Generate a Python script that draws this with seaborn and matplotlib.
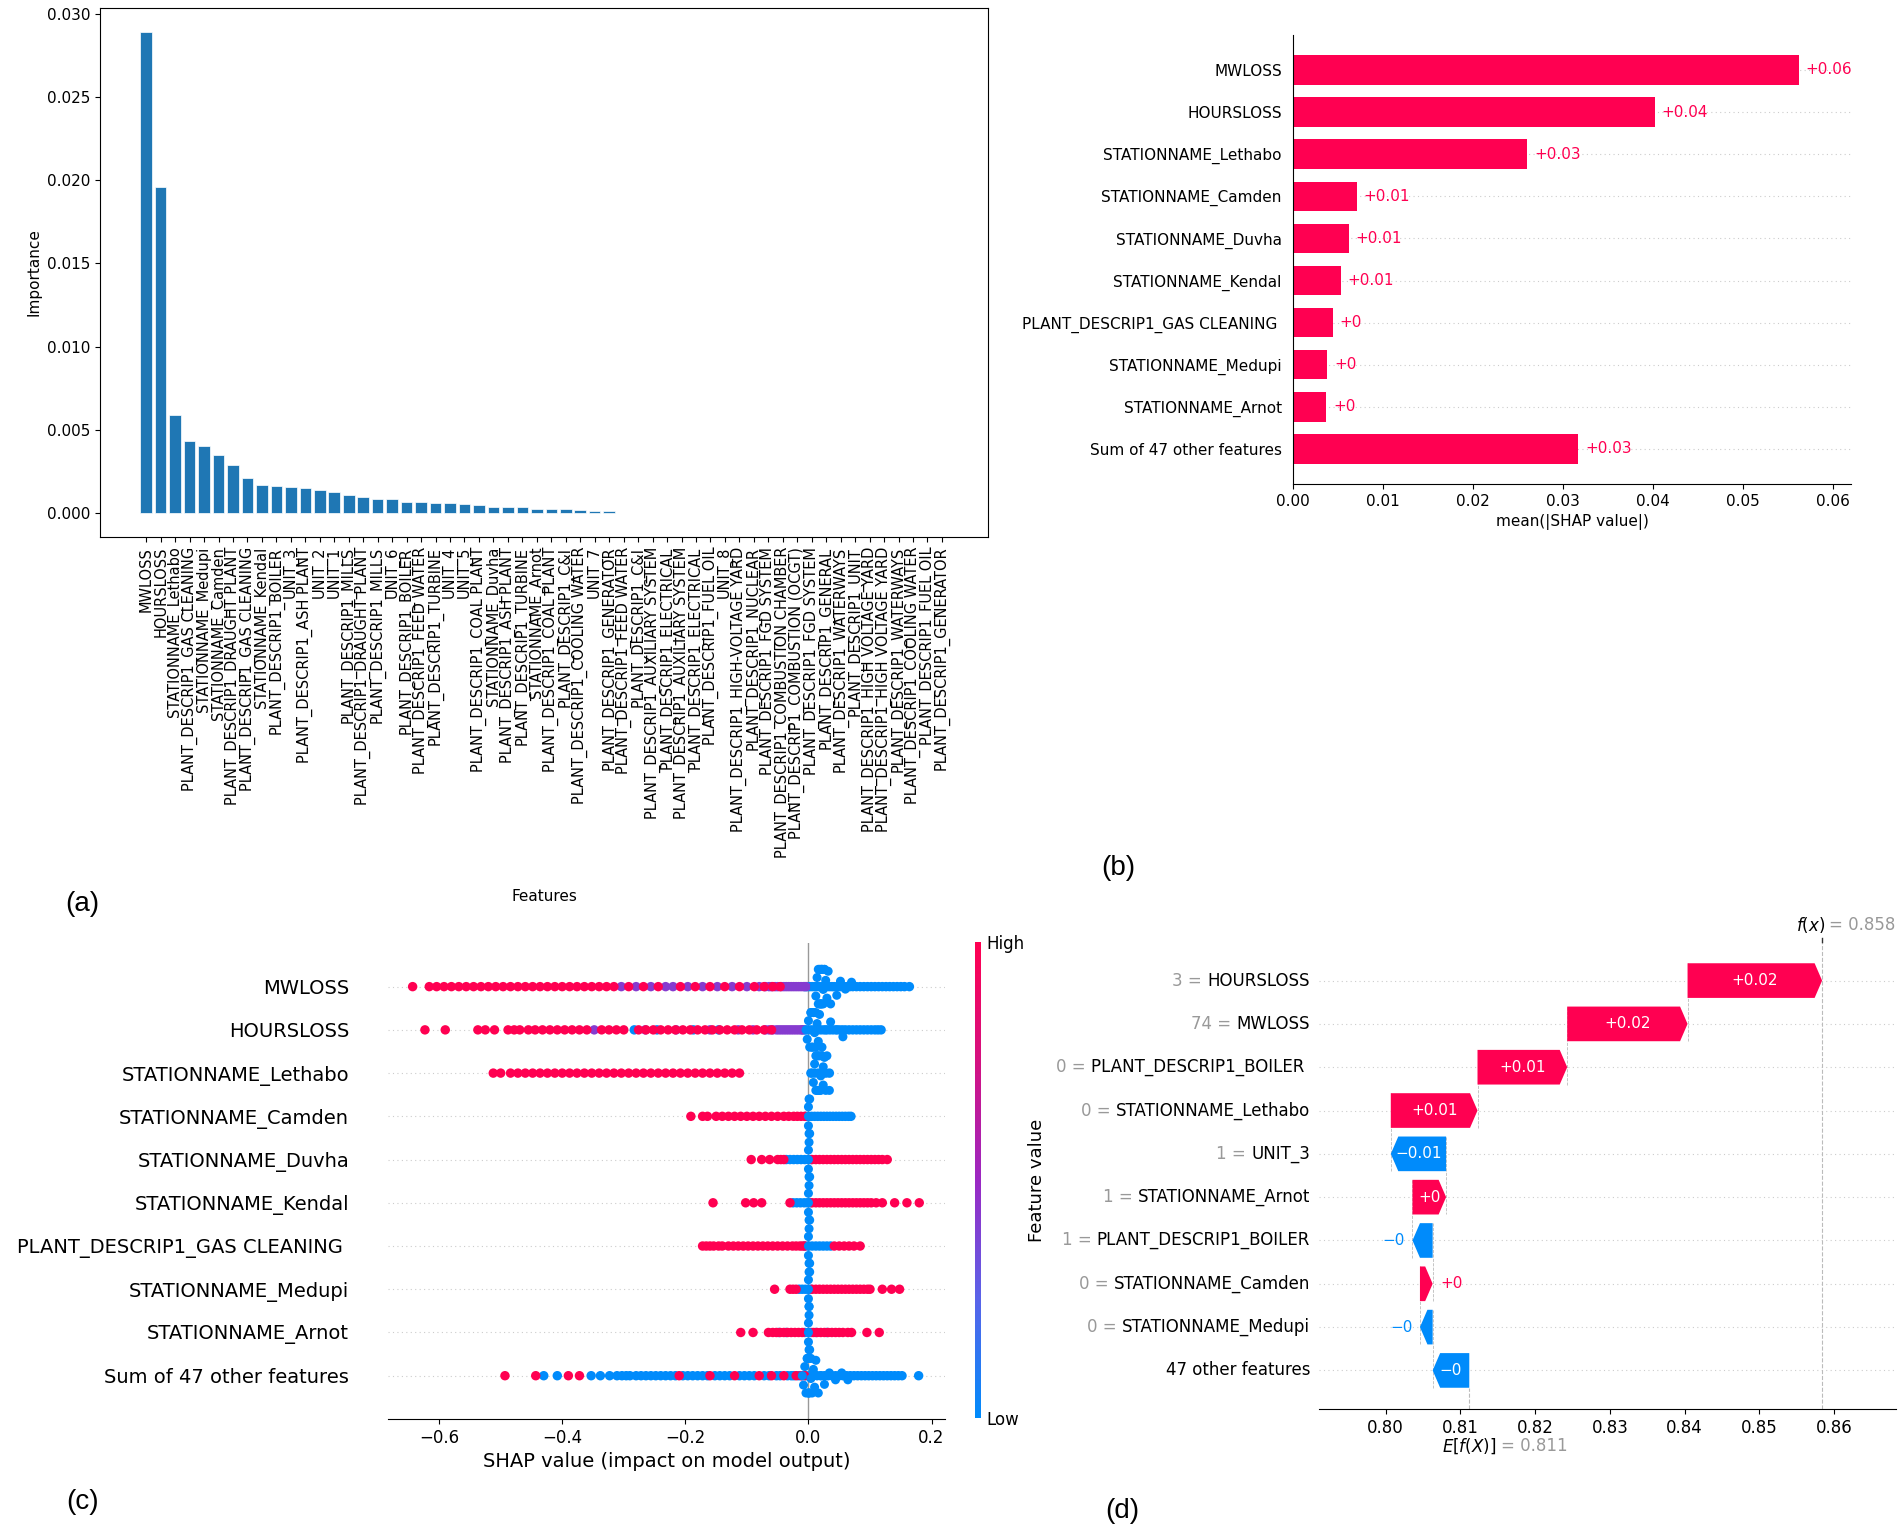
import numpy as np
import pandas as pd
import matplotlib
matplotlib.use("Agg")
import matplotlib.pyplot as plt
import matplotlib.transforms as mtransforms
from matplotlib.colors import LinearSegmentedColormap
from matplotlib.patches import Polygon
import seaborn as sns

SHAP_RED = "#ff0051"
SHAP_BLUE = "#008bfb"

# ---------------- (a) feature importance ----------------
imp_features = [
    "MWLOSS", "HOURSLOSS", "STATIONNAME_Lethabo", "PLANT_DESCRIP1_GAS CLEANING",
    "STATIONNAME_Medupi", "STATIONNAME_Camden", "PLANT_DESCRIP1_DRAUGHT PLANT",
    "PLANT_DESCRIP1_GAS CLEANING", "STATIONNAME_Kendal", "PLANT_DESCRIP1_BOILER",
    "UNIT_3", "PLANT_DESCRIP1_ASH PLANT", "UNIT_2", "UNIT_1", "PLANT_DESCRIP1_MILLS",
    "PLANT_DESCRIP1_DRAUGHT PLANT", "PLANT_DESCRIP1_MILLS", "UNIT_6",
    "PLANT_DESCRIP1_BOILER", "PLANT_DESCRIP1_FEED WATER", "PLANT_DESCRIP1_TURBINE",
    "UNIT_4", "UNIT_5", "PLANT_DESCRIP1_COAL PLANT", "STATIONNAME_Duvha",
    "PLANT_DESCRIP1_ASH PLANT", "PLANT_DESCRIP1_TURBINE", "STATIONNAME_Arnot",
    "PLANT_DESCRIP1_COAL PLANT", "PLANT_DESCRIP1_C&I", "PLANT_DESCRIP1_COOLING WATER",
    "UNIT_7", "PLANT_DESCRIP1_GENERATOR", "PLANT_DESCRIP1_FEED WATER",
    "PLANT_DESCRIP1_C&I", "PLANT_DESCRIP1_AUXILIARY SYSTEM", "PLANT_DESCRIP1_ELECTRICAL",
    "PLANT_DESCRIP1_AUXILIARY SYSTEM", "PLANT_DESCRIP1_ELECTRICAL",
    "PLANT_DESCRIP1_FUEL OIL", "UNIT_8", "PLANT_DESCRIP1_HIGH-VOLTAGE YARD",
    "PLANT_DESCRIP1_NUCLEAR", "PLANT_DESCRIP1_FGD SYSTEM",
    "PLANT_DESCRIP1_COMBUSTION CHAMBER", "PLANT_DESCRIP1_COMBUSTION (OCGT)",
    "PLANT_DESCRIP1_FGD SYSTEM", "PLANT_DESCRIP1_GENERAL", "PLANT_DESCRIP1_WATERWAYS",
    "PLANT_DESCRIP1_UNIT", "PLANT_DESCRIP1_HIGH VOLTAGE YARD",
    "PLANT_DESCRIP1_HIGH VOLTAGE YARD", "PLANT_DESCRIP1_WATERWAYS",
    "PLANT_DESCRIP1_COOLING WATER", "PLANT_DESCRIP1_FUEL OIL", "PLANT_DESCRIP1_GENERATOR",
]
imp_values = [
    0.0289, 0.0196, 0.0059, 0.0043, 0.0040, 0.0035, 0.0029, 0.0021, 0.0017, 0.0016,
    0.00155, 0.0015, 0.0014, 0.00128, 0.0011, 0.00094, 0.00082, 0.00082, 0.00068, 0.00068,
    0.0006, 0.0006, 0.00052, 0.00046, 0.00034, 0.00034, 0.00034, 0.00026, 0.00026, 0.00026,
    0.0002, 0.0001, 0.0001, 0.00002, 0.00002, 0.00002, 0.00002, 0.00002, 0.00002, 0.00002,
    0, 0, 0, 0, 0, 0, 0, 0, 0, 0, 0, 0, 0, 0, 0, 0,
]

# ---------------- (b) mean |SHAP| ----------------
shap_features = [
    "MWLOSS", "HOURSLOSS", "STATIONNAME_Lethabo", "STATIONNAME_Camden",
    "STATIONNAME_Duvha", "STATIONNAME_Kendal", "PLANT_DESCRIP1_GAS CLEANING ",
    "STATIONNAME_Medupi", "STATIONNAME_Arnot", "Sum of 47 other features",
]
mean_abs_shap = [0.0562, 0.0402, 0.0260, 0.0071, 0.0062, 0.0053, 0.0044, 0.0038, 0.0037, 0.0317]

# ---------------- (c) beeswarm ----------------
# points lying along each row (high / mid / low feature value)
mw_high = [-0.643, -0.616, -0.604, -0.592, -0.580, -0.568, -0.556, -0.544, -0.532, -0.520,
           -0.508, -0.496, -0.484, -0.472, -0.460, -0.448, -0.436, -0.424, -0.412, -0.400,
           -0.388, -0.376, -0.364, -0.352, -0.340, -0.328, -0.316, -0.292, -0.268, -0.244,
           -0.208, -0.184, -0.160, -0.136, -0.112, -0.088, -0.072, -0.058, -0.046]
mw_mid = [-0.304, -0.280, -0.256, -0.232, -0.220, -0.196, -0.172, -0.148, -0.124, -0.100,
          -0.080, -0.070, -0.064, -0.060, -0.054, -0.050, -0.044, -0.040, -0.036, -0.032,
          -0.028, -0.024, -0.020, -0.016, -0.012, -0.008, -0.004]
mw_low = [-0.006, -0.002, 0.002, 0.006, 0.010, 0.014, 0.018, 0.022, 0.026, 0.030, 0.034,
          0.038, 0.042, 0.047, 0.052, 0.057, 0.062, 0.067, 0.072, 0.078, 0.084, 0.090, 0.096,
          0.102, 0.108, 0.114, 0.120, 0.126, 0.132, 0.138, 0.144, 0.150, 0.156, 0.164]

hl_high = [-0.623, -0.590, -0.537, -0.525, -0.510, -0.488, -0.478, -0.469, -0.455, -0.444,
           -0.432, -0.420, -0.408, -0.396, -0.384, -0.372, -0.360, -0.336, -0.324, -0.312,
           -0.300, -0.276, -0.264, -0.252, -0.240, -0.228, -0.216, -0.204, -0.192, -0.180,
           -0.168, -0.156, -0.144, -0.132, -0.120, -0.108, -0.096, -0.084, -0.072, -0.060]
hl_mid = [-0.348, -0.265, -0.215, -0.160, -0.114, -0.090, -0.070, -0.064, -0.058, -0.052,
          -0.048, -0.044, -0.040, -0.036, -0.032, -0.028, -0.024, -0.020, -0.016, -0.012,
          -0.008]
hl_low = [-0.283, -0.246, -0.187, -0.146, -0.010, -0.005, 0.0, 0.005, 0.010, 0.015, 0.020,
          0.025, 0.030, 0.035, 0.040, 0.045, 0.050, 0.055, 0.060, 0.066, 0.072, 0.078, 0.084,
          0.090, 0.096, 0.102, 0.108, 0.113, 0.118]

le_high = [-0.512, -0.500, -0.484, -0.472, -0.460, -0.448, -0.436, -0.424, -0.412, -0.400,
           -0.388, -0.376, -0.364, -0.352, -0.340, -0.328, -0.316, -0.304, -0.292, -0.280,
           -0.268, -0.256, -0.244, -0.232, -0.220, -0.208, -0.196, -0.184, -0.172, -0.160,
           -0.148, -0.136, -0.124, -0.112]
le_low = [0.004, 0.010, 0.016, 0.022, 0.028, 0.034]

ca_high = [-0.191, -0.172, -0.164, -0.150, -0.140, -0.130, -0.120, -0.110, -0.100, -0.090,
           -0.080, -0.070, -0.060, -0.050, -0.040, -0.032, -0.024, -0.018, -0.012, -0.006]
ca_low = [-0.004, 0.0, 0.005, 0.010, 0.015, 0.020, 0.025, 0.030, 0.035, 0.040, 0.045, 0.050,
          0.055, 0.060, 0.065, 0.069]

du_high = [-0.093, -0.076, -0.063, -0.050, -0.045, -0.040, 0.006, 0.012, 0.018, 0.024, 0.030,
           0.036, 0.042, 0.048, 0.054, 0.060, 0.066, 0.072, 0.078, 0.084, 0.090, 0.096, 0.102,
           0.108, 0.114, 0.120, 0.128]
du_low = [-0.036, -0.030, -0.024, -0.018, -0.012, -0.006, 0.0, 0.004]

ke_high = [-0.155, -0.102, -0.089, -0.076, -0.030, 0.006, 0.012, 0.018, 0.024, 0.030, 0.036,
           0.042, 0.048, 0.054, 0.060, 0.066, 0.072, 0.078, 0.084, 0.090, 0.096, 0.102, 0.110,
           0.120, 0.140, 0.160, 0.180]
ke_low = [-0.025, -0.019, -0.013, -0.007, -0.002, 0.003]

gc_high = [-0.172, -0.166, -0.160, -0.154, -0.146, -0.140, -0.130, -0.122, -0.114, -0.106,
           -0.098, -0.090, -0.082, -0.074, -0.066, -0.058, -0.050, -0.042, -0.034, -0.026,
           -0.020, -0.014, -0.010, -0.006, 0.042, 0.050, 0.058, 0.066, 0.074, 0.084]
gc_low = [-0.006, 0.0, 0.006, 0.012, 0.018, 0.024, 0.030, 0.036]

me_high = [-0.055, -0.030, -0.025, -0.020, 0.006, 0.012, 0.018, 0.024, 0.030, 0.036, 0.042,
           0.048, 0.054, 0.060, 0.066, 0.072, 0.078, 0.084, 0.090, 0.096, 0.100, 0.120,
           0.135, 0.148]
me_low = [-0.015, -0.010, -0.005, 0.0, 0.004]

ar_high = [-0.110, -0.090, -0.065, -0.058, -0.052, -0.046, -0.040, -0.034, -0.028, -0.022,
           -0.016, -0.010, 0.008, 0.014, 0.020, 0.026, 0.032, 0.038, 0.044, 0.050, 0.056,
           0.064, 0.070, 0.095, 0.115]
ar_low = [-0.048, -0.036, -0.006, 0.0, 0.004, 0.012, 0.030]

so_high = [-0.493, -0.443, -0.390, -0.372, -0.210, -0.160, -0.120, -0.080, -0.060, -0.040,
           -0.020, -0.012, -0.006]
so_low = [-0.430, -0.408, -0.353, -0.338, -0.323, -0.311, -0.303, -0.296, -0.290, -0.280,
          -0.272, -0.264, -0.256, -0.248, -0.240, -0.232, -0.224, -0.216, -0.204, -0.196,
          -0.188, -0.180, -0.172, -0.164, -0.152, -0.144, -0.136, -0.128, -0.112, -0.104,
          -0.096, -0.088, -0.072, -0.064, -0.052, -0.046, -0.034, -0.028, -0.024, -0.016,
          -0.010, -0.004, 0.002, 0.008, 0.014, 0.020, 0.026, 0.032, 0.038, 0.044, 0.050,
          0.056, 0.062, 0.068, 0.074, 0.080, 0.086, 0.092, 0.098, 0.104, 0.110, 0.116, 0.122,
          0.128, 0.134, 0.140, 0.146, 0.152, 0.179]

# low-value points piled up in the dense clusters near zero
mw_stack = [0.010, 0.012, 0.014, 0.016, 0.016, 0.018, 0.018, 0.020, 0.020, 0.020, 0.022,
            0.022, 0.022, 0.024, 0.024, 0.026, 0.026, 0.028, 0.030, 0.032, 0.036, 0.040,
            0.046, 0.052, 0.060, 0.070]
hl_stack = [-0.004, -0.002, 0.0, 0.002, 0.004, 0.004, 0.006, 0.006, 0.008, 0.008, 0.010,
            0.010, 0.012, 0.012, 0.014, 0.016, 0.018, 0.022, 0.028, 0.036, 0.046, 0.056]
le_stack = [0.006, 0.008, 0.010, 0.012, 0.012, 0.014, 0.014, 0.016, 0.016, 0.018, 0.018,
            0.020, 0.020, 0.022, 0.022, 0.024, 0.024, 0.026, 0.028, 0.030, 0.034]
ca_stack = [0.0, 0.0, 0.0, 0.001, 0.001, 0.002, 0.002]
du_stack = [0.0, 0.0, 0.0, 0.001, 0.001, 0.002]
ke_stack = [0.0, 0.0, 0.0, 0.001, 0.001, 0.002]
gc_stack = [0.0, 0.0, 0.0, 0.001, 0.001, 0.002]
me_stack = [0.0, 0.0, 0.0, 0.001, 0.001, 0.001, 0.002]
ar_stack = [0.0, 0.0, 0.0, 0.001, 0.001, 0.002]
so_stack = [-0.010, -0.008, -0.006, -0.004, -0.002, -0.002, 0.0, 0.0, 0.0, 0.002, 0.002,
            0.004, 0.004, 0.006, 0.008, 0.010, 0.012, 0.016, 0.020, 0.026, 0.034, 0.044,
            0.054, 0.064]

# ---------------- (d) waterfall ----------------
wf_feature_vals = ["3", "74", "0", "0", "1", "1", "1", "0", "0", ""]
wf_names = ["HOURSLOSS", "MWLOSS", "PLANT_DESCRIP1_BOILER ", "STATIONNAME_Lethabo", "UNIT_3",
            "STATIONNAME_Arnot", "PLANT_DESCRIP1_BOILER", "STATIONNAME_Camden",
            "STATIONNAME_Medupi", "47 other features"]
wf_contrib = [0.0180, 0.0161, 0.0120, 0.0116, -0.0074, 0.0045, -0.0027, 0.0017, -0.0017, -0.0049]
wf_base = 0.8112


def fmt(v):
    s = f"{v:+.2f}".rstrip("0").rstrip(".")
    return s.replace("-", "\u2212")


shap_cmap = LinearSegmentedColormap.from_list(
    "shap_rb", ["#008bfb", "#5a63e9", "#9b28c3", "#d41181", "#ff0051"])

fig = plt.figure(figsize=(19.02, 15.32), dpi=100)

# ---- panel (a) ----
axa = fig.add_axes([0.0526, 0.6495, 0.4669, 0.3453])
pos = np.arange(len(imp_values))
sns.barplot(x=pos, y=imp_values, color="#1f77b4", saturation=1, width=0.8,
            edgecolor="white", linewidth=0.5, ax=axa)
axa.set_xticks(pos)
axa.set_xticklabels(imp_features, rotation=90, fontsize=10.5)
axa.set_xlim(-3.19, 58.19)
axa.set_ylim(-0.00144, 0.03034)
axa.set_yticks([0, 0.005, 0.010, 0.015, 0.020, 0.025, 0.030])
axa.tick_params(axis="y", labelsize=11)
axa.set_xlabel("Features", fontsize=11, labelpad=22)
axa.set_ylabel("Importance", fontsize=11)

# ---- panel (b) ----
axb = fig.add_axes([0.6798, 0.6841, 0.2934, 0.2931])
for i in range(len(shap_features)):
    axb.axhline(i, color="#cccccc", lw=0.8, dashes=(1, 3), zorder=-1)
sns.barplot(x=mean_abs_shap, y=shap_features, order=shap_features, orient="h",
            color=SHAP_RED, saturation=1, width=0.7, ax=axb)
axb.set_xlim(0, 0.062)
axb.set_ylim(9.83, -0.83)
off_b = 0.062 / 80
for i, v in enumerate(mean_abs_shap):
    axb.text(v + off_b, i, fmt(v), ha="left", va="center", color=SHAP_RED, fontsize=11)
axb.set_xticks([0, 0.01, 0.02, 0.03, 0.04, 0.05, 0.06])
axb.tick_params(axis="y", length=0, pad=8, labelsize=11)
axb.tick_params(axis="x", labelsize=11)
axb.set_xlabel("mean(|SHAP value|)", fontsize=11)
axb.set_ylabel("")
for s in ("top", "right"):
    axb.spines[s].set_visible(False)

# ---- panel (c) ----
swarm_rows = [
    (shap_features[0], mw_high, mw_mid, mw_low, mw_stack),
    (shap_features[1], hl_high, hl_mid, hl_low, hl_stack),
    (shap_features[2], le_high, [], le_low, le_stack),
    (shap_features[3], ca_high, [], ca_low, ca_stack),
    (shap_features[4], du_high, [], du_low, du_stack),
    (shap_features[5], ke_high, [], ke_low, ke_stack),
    (shap_features[6], gc_high, [], gc_low, gc_stack),
    (shap_features[7], me_high, [], me_low, me_stack),
    (shap_features[8], ar_high, [], ar_low, ar_stack),
    (shap_features[9], so_high, [], so_low, so_stack),
]
line_rec, stack_rec = [], []
for name, high, mid, low, stack in swarm_rows:
    for lvl, vals in (("low", low), ("mid", mid), ("high", high)):
        line_rec += [(name, v, lvl) for v in vals]
    stack_rec += [(name, v, "low") for v in stack]
df_line = pd.DataFrame(line_rec, columns=["feature", "shap", "level"])
df_stack = pd.DataFrame(stack_rec, columns=["feature", "shap", "level"])
level_colors = {"low": shap_cmap(0.0), "mid": shap_cmap(0.42), "high": shap_cmap(1.0)}

axc = fig.add_axes([0.2040, 0.0738, 0.2929, 0.3104])
axc.set_xlim(-0.683, 0.222)
for i in range(len(shap_features)):
    axc.axhline(i, color="#cccccc", lw=0.8, dashes=(1, 3), zorder=-1)
axc.axvline(0, color="#999999", lw=1, zorder=-1)
sns.stripplot(data=df_line, x="shap", y="feature", hue="level", palette=level_colors,
              order=shap_features, orient="h", jitter=False, size=6.8, linewidth=0,
              legend=False, ax=axc)
sns.swarmplot(data=df_stack, x="shap", y="feature", hue="level", palette=level_colors,
              order=shap_features, orient="h", size=6.5, linewidth=0, legend=False,
              warn_thresh=1, ax=axc)
axc.set_xlim(-0.683, 0.222)
axc.set_ylim(10, -1)
axc.set_xticks([-0.6, -0.4, -0.2, 0.0, 0.2])
axc.tick_params(axis="y", length=0, pad=28, labelsize=14)
axc.tick_params(axis="x", labelsize=12)
axc.set_xlabel("SHAP value (impact on model output)", fontsize=14)
axc.set_ylabel("")
for s in ("top", "right", "left"):
    axc.spines[s].set_visible(False)

cax = fig.add_axes([0.5126, 0.0744, 0.0032, 0.3104])
sm = plt.cm.ScalarMappable(cmap=shap_cmap, norm=plt.Normalize(0, 1))
cb = fig.colorbar(sm, cax=cax, ticks=[0, 1])
cb.set_ticklabels(["Low", "High"])
cb.ax.tick_params(length=0, labelsize=12, pad=4)
cb.outline.set_visible(False)
cb.set_label("Feature value", fontsize=13, labelpad=2)

# ---- panel (d) ----
axd = fig.add_axes([0.6935, 0.0803, 0.3034, 0.3048])
n = len(wf_contrib)
c = np.array(wf_contrib)
cum = wf_base + np.concatenate([[0], np.cumsum(c[::-1])])
starts = cum[:-1][::-1]
fx = wf_base + c.sum()
xmin, xmax = 0.7911, 0.8683
axd.set_xlim(xmin, xmax)
axd.set_ylim(9.89, -0.89)

for i in range(n):
    axd.axhline(i, color="#cccccc", lw=0.8, dashes=(1, 3), zorder=-1)
axd.axvline(fx, color="#bbbbbb", ls="--", lw=0.8, zorder=-1)
axd.axvline(wf_base, 0, (9.89 - (n - 1 + 0.4)) / (9.89 + 0.89), color="#bbbbbb",
            ls="--", lw=0.8, zorder=-1)
for i in range(n - 1):
    axd.plot([starts[i], starts[i]], [i - 0.4, i + 1.4], color="#bbbbbb", ls="--",
             lw=0.6, zorder=-1)

renderer = fig.canvas.get_renderer()
ppu = axd.bbox.width / (xmax - xmin)
hh = 0.4
for i in range(n):
    s, w = starts[i], c[i]
    hl = min(0.001, abs(w))
    sg = np.sign(w)
    pts = [(s, i - hh), (s + w - sg * hl, i - hh), (s + w, i),
           (s + w - sg * hl, i + hh), (s, i + hh)]
    col = SHAP_RED if w > 0 else SHAP_BLUE
    axd.add_patch(Polygon(pts, closed=True, facecolor=col, edgecolor="none"))
    t = axd.text(s + w / 2, i, fmt(w), ha="center", va="center", color="white", fontsize=11)
    tw = t.get_window_extent(renderer).width
    if tw >= abs(w) * ppu:
        t.remove()
        if w > 0:
            axd.text(s + w + 0.001, i, fmt(w), ha="left", va="center", color=col, fontsize=11)
        else:
            axd.text(s + w - 0.001, i, fmt(w), ha="right", va="center", color=col, fontsize=11)

# y labels: black feature name, grey "value =" in front of it
axd.set_yticks(range(n))
axd.set_yticklabels([])
axd.tick_params(axis="y", length=0)
ytrans = axd.get_yaxis_transform() + mtransforms.ScaledTranslation(-6.5 / 72, 0, fig.dpi_scale_trans)
for i, (v, nm) in enumerate(zip(wf_feature_vals, wf_names)):
    nt = axd.text(0, i, nm, transform=ytrans, ha="right", va="center",
                  fontsize=12, color="black")
    if v:
        axd.annotate(f"{v} =", xy=(0, 0.5), xycoords=nt, xytext=(-3.8, 0),
                     textcoords="offset points", ha="right", va="center",
                     fontsize=12, color="#999999")
axd.set_xticks([0.80, 0.81, 0.82, 0.83, 0.84, 0.85, 0.86])
axd.tick_params(axis="x", labelsize=12)
for s in ("top", "right", "left"):
    axd.spines[s].set_visible(False)

btrans = mtransforms.blended_transform_factory(axd.transData, axd.transAxes)
axd.plot([fx, fx], [1.0, 1.009], transform=btrans, color="#333333", lw=1, clip_on=False)
ftxt = axd.annotate("$f(x)$", xy=(fx, 1), xycoords=btrans, xytext=(2, 12),
                    textcoords="offset points", ha="right", va="center", fontsize=12)
axd.annotate(f"= {fx:.3f}", xy=(1, 0.5), xycoords=ftxt, xytext=(3, 0),
             textcoords="offset points", ha="left", va="center", fontsize=12, color="#999999")
etxt = axd.annotate("$E[f(X)]$", xy=(wf_base, 0), xycoords=btrans, xytext=(0, -27),
                    textcoords="offset points", ha="center", va="center", fontsize=12)
axd.annotate(f"= {wf_base:.3f}", xy=(1, 0.5), xycoords=etxt, xytext=(3, 0),
             textcoords="offset points", ha="left", va="center", fontsize=12, color="#999999")

# ---- panel letters ----
for x, y, lab in [(0.0431, 0.4099, "(a)"), (0.5878, 0.4334, "(b)"),
                  (0.0436, 0.0196, "(c)"), (0.5899, 0.0137, "(d)")]:
    fig.text(x, y, lab, fontsize=20, family="Liberation Sans", ha="center", va="center")

fig.savefig("out.png", dpi=100)
